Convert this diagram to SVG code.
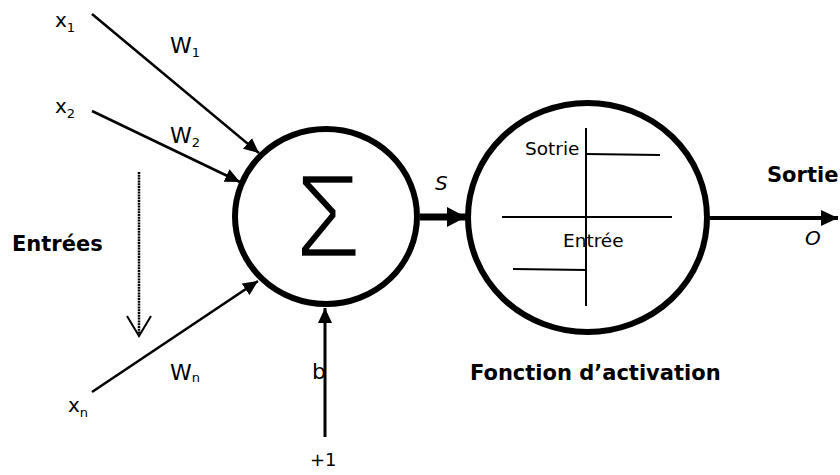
<svg xmlns="http://www.w3.org/2000/svg" width="840" height="475" viewBox="0 0 840 475">
  <style>
    .t { font-family: "DejaVu Sans", Verdana, sans-serif; fill: #000; }
    .b { font-weight: bold; }
    .i { font-style: italic; }
    .ln { stroke: #000; fill: none; }
  </style>
  <defs>
    <marker id="ah" markerUnits="userSpaceOnUse" markerWidth="16" markerHeight="14" refX="15" refY="7" orient="auto">
      <path d="M0,0 L15,7 L0,14 Z" fill="#000"/>
    </marker>
    <marker id="ahBig" markerUnits="userSpaceOnUse" markerWidth="20" markerHeight="20" refX="19" refY="10" orient="auto">
      <path d="M0,0 L19,10 L0,20 Z" fill="#000"/>
    </marker>
    <marker id="ahOut" markerUnits="userSpaceOnUse" markerWidth="18" markerHeight="16" refX="17" refY="8" orient="auto">
      <path d="M0,0 L17,8 L0,16 Z" fill="#000"/>
    </marker>
  </defs>
  <rect width="840" height="475" fill="#fff"/>

  <g id="connectors">
    <line class="ln" x1="92" y1="14" x2="259" y2="153" stroke-width="2.5" marker-end="url(#ah)"/>
    <line class="ln" x1="92" y1="111" x2="240" y2="182" stroke-width="2.5" marker-end="url(#ah)"/>
    <line class="ln" x1="92" y1="392" x2="258" y2="281" stroke-width="2.5" marker-end="url(#ah)"/>
    <line class="ln" x1="325" y1="437" x2="325" y2="308" stroke-width="3" marker-end="url(#ah)"/>
    <line class="ln" x1="420" y1="217" x2="466" y2="217" stroke-width="7" marker-end="url(#ahBig)"/>
    <line class="ln" x1="710" y1="218" x2="838" y2="218" stroke-width="4" marker-end="url(#ahOut)"/>
    <line class="ln" x1="139" y1="172" x2="139" y2="334" stroke="#000" stroke-width="2.5" stroke-dasharray="2 0.8"/>
    <polyline class="ln" points="127,316 139,336 151,316" stroke-width="2"/>
  </g>

  <g id="inputs">
    <text class="t" x="55" y="27" font-size="20">x<tspan font-size="13" dy="5">1</tspan></text>
    <text class="t" x="55" y="113" font-size="20">x<tspan font-size="13" dy="5">2</tspan></text>
    <text class="t" x="68" y="412" font-size="20">x<tspan font-size="13" dy="5">n</tspan></text>
    <text class="t" x="170" y="53" font-size="22">W<tspan font-size="13" dy="4">1</tspan></text>
    <text class="t" x="170" y="143" font-size="22">W<tspan font-size="13" dy="4">2</tspan></text>
    <text class="t" x="170" y="380" font-size="22">W<tspan font-size="13" dy="2">n</tspan></text>
    <text class="t b" x="12" y="251" font-size="21">Entrées</text>
    <text class="t" x="312" y="379" font-size="22">b</text>
    <text class="t" x="310" y="466" font-size="18">+1</text>
  </g>

  <g id="sum">
    <ellipse cx="326" cy="216.5" rx="91" ry="87.5" fill="#fff" stroke="#000" stroke-width="6"/>
    <text transform="translate(328,257) scale(0.9,1)" text-anchor="middle" font-size="118" font-family="'Liberation Sans', Arial, sans-serif" fill="#000" stroke="#fff" stroke-width="2.5">Σ</text>
  </g>

  <text class="t i" x="435" y="190" font-size="20">S</text>

  <g id="activation">
    <ellipse cx="587.5" cy="217.5" rx="119.5" ry="114.5" fill="#fff" stroke="#000" stroke-width="6"/>
    <line class="ln" x1="586" y1="128" x2="586" y2="306" stroke-width="2"/>
    <line class="ln" x1="502" y1="217" x2="672" y2="217" stroke-width="2"/>
    <line class="ln" x1="586" y1="154" x2="660" y2="155" stroke-width="2"/>
    <line class="ln" x1="513" y1="269" x2="586" y2="270" stroke-width="2"/>
    <text class="t" x="525" y="155" font-size="18.5">Sotrie</text>
    <text class="t" x="563" y="247" font-size="18.5">Entrée</text>
    <text class="t b" x="470" y="380" font-size="21">Fonction d’activation</text>
  </g>

  <g id="output">
    <text class="t b" x="767" y="182" font-size="21">Sortie</text>
    <text class="t i" x="805" y="245" font-size="20">O</text>
  </g>
</svg>
